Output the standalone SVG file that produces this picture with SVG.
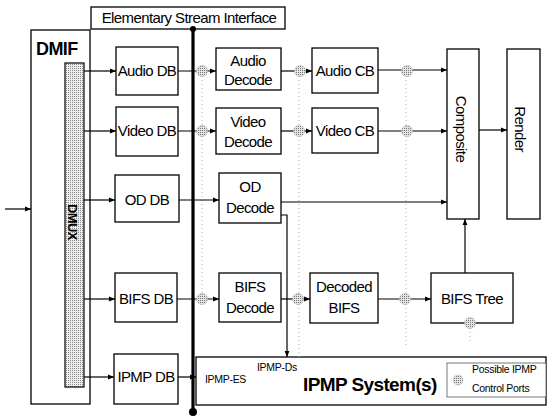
<svg xmlns="http://www.w3.org/2000/svg" width="548" height="417" viewBox="0 0 548 417">
<style>
.box{fill:#fff;stroke:#000;stroke-width:1.3}
.t{font-family:"Liberation Sans",Arial,sans-serif;font-size:15px;fill:#000;text-anchor:middle;letter-spacing:-0.6px}
.s{font-family:"Liberation Sans",Arial,sans-serif;font-size:10.5px;fill:#000;letter-spacing:-0.3px}
.b{font-family:"Liberation Sans",Arial,sans-serif;font-weight:bold;fill:#000;letter-spacing:-0.6px}
.ln{fill:none;stroke:#000;stroke-width:1.2}
.ar{fill:none;stroke:#000;stroke-width:1.2;marker-end:url(#ah)}
.dot{fill:none;stroke:#aaa;stroke-width:1;stroke-dasharray:1 3}
.cp{fill:url(#stip);stroke:#bbb;stroke-width:0.6}
</style>
<defs>
<pattern id="stip" width="2" height="2" patternUnits="userSpaceOnUse"><rect width="2" height="2" fill="#e4e4e4"/><rect width="1" height="1" fill="#777"/></pattern>
<pattern id="stipd" width="2" height="2" patternUnits="userSpaceOnUse"><rect width="2" height="2" fill="#eee"/><rect width="1" height="1" fill="#888"/></pattern>
<marker id="ah" viewBox="0 0 10 10" refX="10" refY="5" markerWidth="6" markerHeight="6" orient="auto" markerUnits="userSpaceOnUse"><path d="M0,1 L10,5 L0,9z" fill="#000"/></marker>
</defs>
<rect width="548" height="417" fill="#fff"/>

<g id="esi">
<rect class="box" x="91" y="7" width="194" height="22"/>
<text class="t" x="189" y="23">Elementary Stream Interface</text>
</g>

<g id="dmif">
<rect class="box" x="31" y="30" width="59" height="374"/>
<text class="b" x="36" y="55" font-size="18">DMIF</text>
</g>

<g id="dmux">
<rect x="65" y="63" width="19" height="324" fill="url(#stipd)" stroke="#000" stroke-width="1.2"/>
<text class="b" x="0" y="0" font-size="13" text-anchor="middle" transform="translate(68,222) rotate(90)">DMUX</text>
</g>

<g id="dbs">
<g id="audio-db"><rect class="box" x="116" y="47" width="62" height="48"/><text class="t" x="147" y="76">Audio DB</text></g>
<g id="video-db"><rect class="box" x="116" y="107" width="62" height="49"/><text class="t" x="147" y="136">Video DB</text></g>
<g id="od-db"><rect class="box" x="115" y="175" width="64" height="47"/><text class="t" x="147" y="205">OD DB</text></g>
<g id="bifs-db"><rect class="box" x="115" y="273" width="62" height="49"/><text class="t" x="146" y="304">BIFS DB</text></g>
<g id="ipmp-db"><rect class="box" x="114" y="354" width="64" height="50"/><text class="t" x="146" y="382">IPMP DB</text></g>
</g>

<g id="decoders">
<g id="audio-decode"><rect class="box" x="216" y="48" width="65" height="42"/><text class="t" x="248" y="66">Audio</text><text class="t" x="248" y="85">Decode</text></g>
<g id="video-decode"><rect class="box" x="216" y="108" width="65" height="46"/><text class="t" x="248" y="127">Video</text><text class="t" x="248" y="147">Decode</text></g>
<g id="od-decode"><rect class="box" x="219" y="173" width="62" height="50"/><text class="t" x="250" y="192">OD</text><text class="t" x="250" y="213">Decode</text></g>
<g id="bifs-decode"><rect class="box" x="219" y="273" width="62" height="49"/><text class="t" x="250" y="292">BIFS</text><text class="t" x="250" y="313">Decode</text></g>
</g>

<g id="cbs">
<g id="audio-cb"><rect class="box" x="312" y="48" width="66" height="45"/><text class="t" x="345" y="76">Audio CB</text></g>
<g id="video-cb"><rect class="box" x="312" y="108" width="66" height="45"/><text class="t" x="345" y="136">Video CB</text></g>
<g id="decoded-bifs"><rect class="box" x="310" y="273" width="68" height="50"/><text class="t" x="344" y="292">Decoded</text><text class="t" x="344" y="313">BIFS</text></g>
<g id="bifs-tree"><rect class="box" x="431" y="273" width="82" height="50"/><text class="t" x="472" y="304">BIFS Tree</text></g>
</g>

<g id="composite">
<rect class="box" x="447" y="49" width="32" height="170"/>
<text class="t" font-size="16" transform="translate(456,129) rotate(90)" x="0" y="0">Composite</text>
</g>
<g id="render">
<rect class="box" x="507" y="49" width="33" height="170"/>
<text class="t" font-size="16" transform="translate(515,129) rotate(90)" x="0" y="0">Render</text>
</g>

<g id="ipmp-system">
<rect class="box" x="196" y="357" width="350" height="48"/>
<text class="s" x="205" y="383">IPMP-ES</text>
<text class="s" x="257" y="371">IPMP-Ds</text>
<text class="b" x="303" y="391" font-size="19">IPMP System(s)</text>
</g>

<g id="legend">
<rect x="447" y="363" width="99" height="34" fill="#fff" stroke="#555" stroke-width="0.8"/>
<circle class="cp" cx="458" cy="380" r="5"/>
<text class="s" x="472" y="373">Possible IPMP</text>
<text class="s" x="472" y="392">Control Ports</text>
</g>

<g id="connectors">
<line class="dot" x1="202" y1="76" x2="202" y2="294"/>
<line class="dot" x1="299" y1="76" x2="299" y2="357"/>
<line class="dot" x1="406" y1="76" x2="406" y2="345"/>
<line class="dot" x1="470" y1="328" x2="470" y2="342"/>

<line class="ar" x1="5" y1="209" x2="31" y2="209"/>
<line class="ar" x1="84" y1="71" x2="116" y2="71"/>
<line class="ar" x1="84" y1="131" x2="116" y2="131"/>
<line class="ar" x1="84" y1="200" x2="115" y2="200"/>
<line class="ar" x1="84" y1="299" x2="115" y2="299"/>
<line class="ar" x1="84" y1="377" x2="114" y2="377"/>

<line class="ar" x1="178" y1="71" x2="216" y2="71"/>
<line class="ar" x1="178" y1="131" x2="216" y2="131"/>
<line class="ar" x1="179" y1="200" x2="219" y2="200"/>
<line class="ar" x1="177" y1="299" x2="219" y2="299"/>
<line class="ar" x1="178" y1="377" x2="196" y2="377"/>

<line class="ar" x1="281" y1="71" x2="312" y2="71"/>
<line class="ar" x1="281" y1="131" x2="312" y2="131"/>
<line class="ar" x1="281" y1="299" x2="310" y2="299"/>

<line class="ar" x1="378" y1="70" x2="447" y2="70"/>
<line class="ar" x1="378" y1="131" x2="447" y2="131"/>
<line class="ar" x1="281" y1="202" x2="447" y2="202"/>
<line class="ar" x1="378" y1="299" x2="431" y2="299"/>
<line class="ar" x1="465" y1="273" x2="465" y2="219"/>
<line class="ar" x1="479" y1="130" x2="507" y2="130"/>

<polyline class="ar" points="281,215 287,215 287,357"/>

<line x1="193" y1="29" x2="193" y2="412" stroke="#000" stroke-width="3.2"/>
<circle cx="193" cy="29" r="3" fill="#000"/>
<circle cx="193" cy="412" r="4" fill="#000"/>

<circle class="cp" cx="202" cy="71" r="5.5"/>
<circle class="cp" cx="300" cy="71" r="5.5"/>
<circle class="cp" cx="407" cy="71" r="5.5"/>
<circle class="cp" cx="202" cy="131" r="5.5"/>
<circle class="cp" cx="299" cy="131" r="5.5"/>
<circle class="cp" cx="407" cy="131" r="5.5"/>
<circle class="cp" cx="202" cy="299" r="5.5"/>
<circle class="cp" cx="298" cy="299" r="5.5"/>
<circle class="cp" cx="405" cy="299" r="5.5"/>
<circle class="cp" cx="470" cy="323" r="5.5"/>
</g>
</svg>
